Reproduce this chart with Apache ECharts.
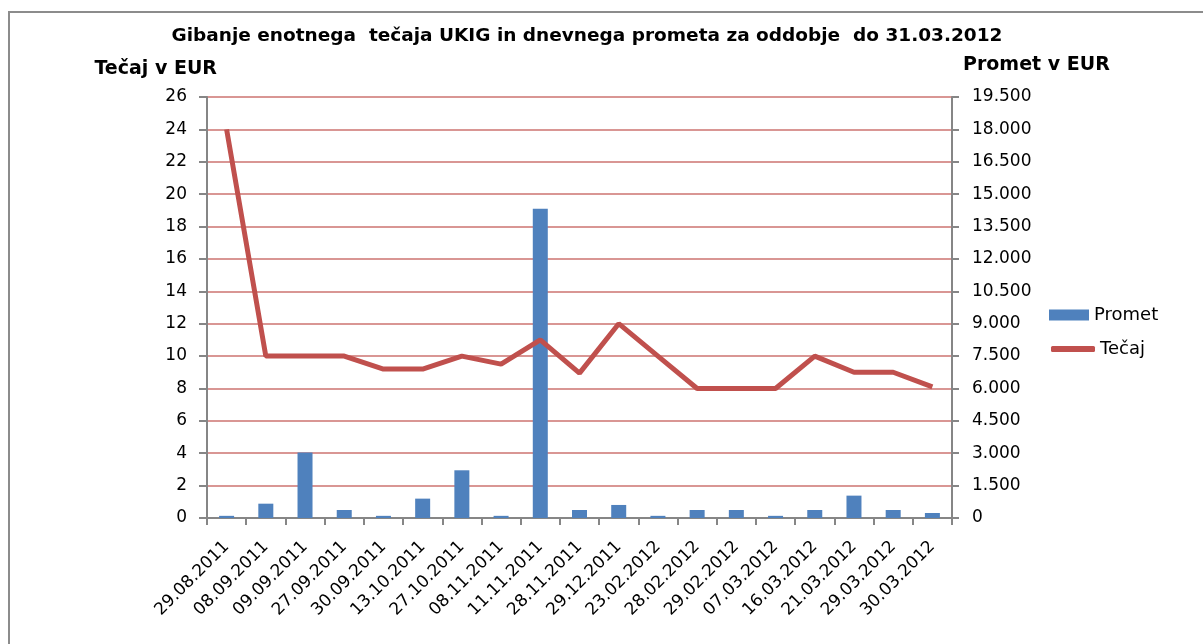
<!DOCTYPE html>
<html>
<head>
<meta charset="utf-8">
<script src="https://cdn.jsdelivr.net/npm/echarts@6/dist/echarts.min.js"></script>
<style>
  html, body { margin: 0; padding: 0; background: #fff; }
  #frame { position: absolute; left: 8px; top: 11px; width: 1300px; height: 700px;
           border-left: 2px solid #8c8c8c; border-top: 2px solid #8c8c8c; }
  #main { position: absolute; left: 0; top: 0; width: 1203px; height: 644px; }
</style>
</head>
<body>
<div id="frame"></div>
<div id="main"></div>
<script>
// datumi
const dates = ["29.08.2011", "08.09.2011", "09.09.2011", "27.09.2011", "30.09.2011", "13.10.2011",
  "27.10.2011", "08.11.2011", "11.11.2011", "28.11.2011", "29.12.2011", "23.02.2012",
  "28.02.2012", "29.02.2012", "07.03.2012", "16.03.2012", "21.03.2012", "29.03.2012", "30.03.2012"];
// dnevni promet (EUR)
const promet = [100, 663, 3030, 371, 100, 897, 2210, 100, 14320, 371, 604, 100,
  371, 371, 100, 371, 1036, 371, 232];
// enotni tečaj (EUR)
const tecaj = [24, 10, 10, 10, 9.2, 9.2, 10, 9.5, 11, 8.95, 12, 10,
  8, 8, 8, 10, 9, 9, 8.1];

const labelFont = "Tahoma, 'DejaVu Sans', sans-serif";
const chartDom = document.getElementById("main");
const myChart = echarts.init(chartDom);

const legendText = { fontFamily: labelFont, fontSize: 18, color: "#000" };

const option = {
  animation: false,
  title: {
    text: "Gibanje enotnega  tečaja UKIG in dnevnega prometa za oddobje  do 31.03.2012",
    left: 582,
    top: 22,
    textAlign: "center",
    textStyle: { fontFamily: labelFont, fontSize: 18.5, fontWeight: "bold", color: "#000" },
  },
  legend: [
    {
      left: 1044,
      top: 301,
      itemWidth: 40,
      itemHeight: 11,
      textStyle: legendText,
      data: [{ name: "Promet", icon: "rect" }],
    },
    {
      left: 1046,
      top: 335,
      itemWidth: 44,
      itemHeight: 6,
      textStyle: legendText,
      data: [{ name: "Tečaj", icon: "roundRect" }],
    },
  ],
  grid: { left: 207, right: 251, top: 97, height: 421 },
  xAxis: {
    type: "category",
    data: dates,
    boundaryGap: true,
    axisLine: { lineStyle: { color: "#868686", width: 2 } },
    axisTick: { show: true, length: 7, lineStyle: { color: "#868686", width: 2 } },
    axisLabel: {
      rotate: 45,
      interval: 0,
      margin: 26,
      color: "#000",
      fontFamily: labelFont,
      fontSize: 17,
    },
  },
  yAxis: [
    {
      type: "value",
      name: "Tečaj v EUR",
      nameLocation: "end",
      nameGap: 18,
      nameTextStyle: { fontFamily: labelFont, fontSize: 19, fontWeight: "bold", color: "#000", align: "right", padding: [0, -10, 0, 0] },
      min: 0,
      max: 26,
      interval: 2,
      axisLine: { show: true, lineStyle: { color: "#868686", width: 2 } },
      axisTick: { show: true, length: 8, lineStyle: { color: "#868686", width: 2 } },
      axisLabel: { color: "#000", fontFamily: labelFont, fontSize: 17, margin: 20 },
      splitLine: { lineStyle: { color: "#D99694", width: 2 } },
    },
    {
      type: "value",
      name: "Promet v EUR",
      nameLocation: "end",
      nameGap: 22,
      nameTextStyle: { fontFamily: labelFont, fontSize: 19, fontWeight: "bold", color: "#000", align: "left", padding: [0, 0, 0, 11] },
      min: 0,
      max: 19500,
      interval: 1500,
      axisLine: { show: true, lineStyle: { color: "#868686", width: 2 } },
      axisTick: { show: true, length: 7, lineStyle: { color: "#868686", width: 2 } },
      axisLabel: {
        color: "#000",
        fontFamily: labelFont,
        fontSize: 17,
        margin: 20,
        formatter: (v) => v.toLocaleString("de-DE"),
      },
      splitLine: { show: false },
    },
  ],
  series: [
    {
      name: "Promet",
      type: "bar",
      yAxisIndex: 1,
      barWidth: 15,
      data: promet,
      itemStyle: { color: "#4F81BD" },
    },
    {
      name: "Tečaj",
      type: "line",
      yAxisIndex: 0,
      data: tecaj,
      symbol: "none",
      lineStyle: { color: "#C0504D", width: 5 },
      itemStyle: { color: "#C0504D" },
      z: 5,
    },
  ],
};

myChart.setOption(option);
</script>
</body>
</html>
